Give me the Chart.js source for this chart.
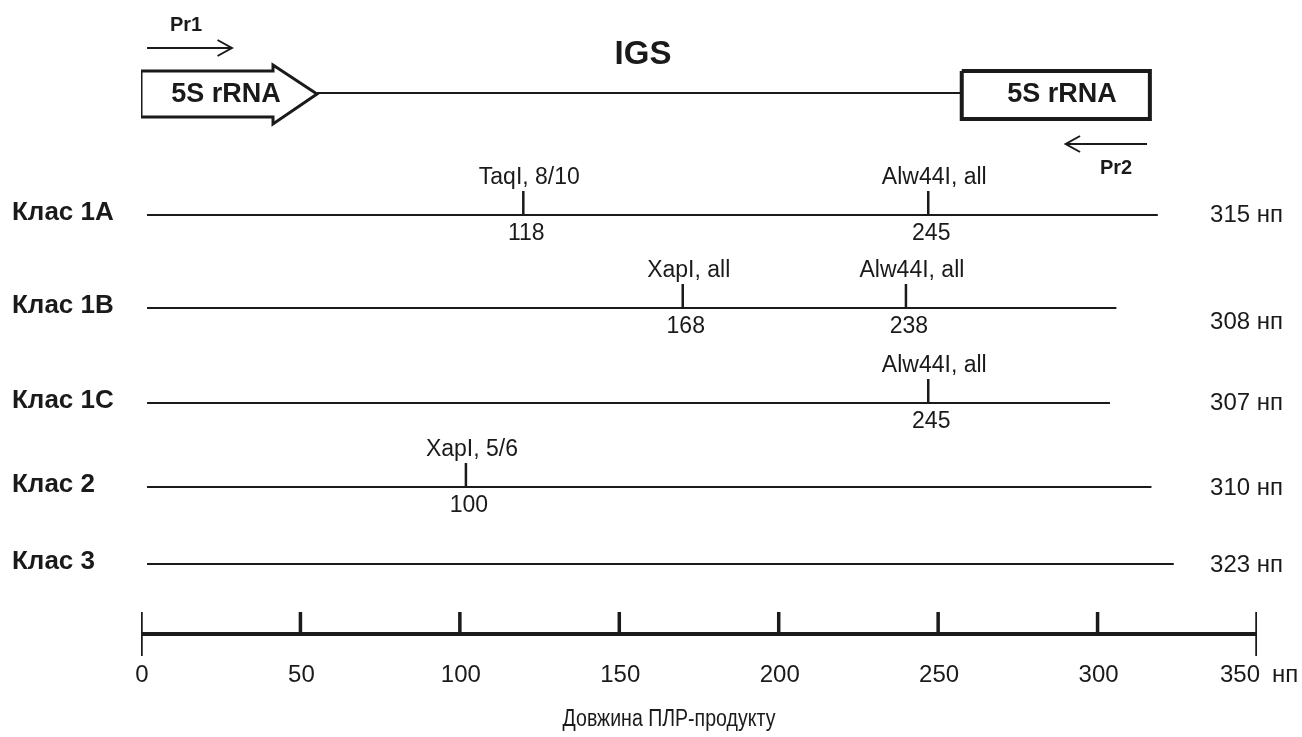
<!DOCTYPE html>
<html>
<head>
<meta charset="utf-8">
<script src="https://cdn.jsdelivr.net/npm/chart.js@4/dist/chart.umd.min.js"></script>
<style>
  html, body { margin: 0; padding: 0; background: #fff; }
  #wrap { width: 1302px; height: 737px; }
</style>
</head>
<body>
<div id="wrap"><canvas id="ctx"></canvas></div>
<script>
// data
const classNames = ['Клас 1A', 'Клас 1B', 'Клас 1C', 'Клас 2', 'Клас 3'];
const productLengths = [315, 308, 307, 310, 323];
const drawnLengths = [317, 304, 302, 315, 322];
const siteClass = [0, 0, 1, 1, 2, 3];
const sitePositions = [118, 245, 168, 238, 245, 100];
const siteEnzymes = ['TaqI, 8/10', 'Alw44I, all', 'XapI, all', 'Alw44I, all', 'Alw44I, all', 'XapI, 5/6'];
const axisTicks = [0, 50, 100, 150, 200, 250, 300, 350];
const axisUnit = 'нп';
const axisTitle = 'Довжина ПЛР-продукту';

// layout (y in canvas units of the y scale)
const rowY = [215, 308, 403, 487, 564];
const lengthLabelY = [215, 322, 403, 488, 565];
const axisY = 634;
const FONT = '"Liberation Sans", Arial, sans-serif';

// gene schematic, x in bp
const gene = { leftStart: 0, headStart: 41.4, tip: 55.2, boxStart: 257.4, boxEnd: 316.4 };

const line = (pts, width, extra) => Object.assign({
  data: pts, borderColor: '#1a1a1a', borderWidth: width, pointRadius: 0,
  fill: false, tension: 0, borderCapStyle: 'butt', borderJoinStyle: 'miter',
}, extra || {});

const datasets = [];

// class rows
classNames.forEach((n, i) => {
  datasets.push(line([{ x: 0, y: rowY[i] }, { x: drawnLengths[i], y: rowY[i] }], 2, { xAxisID: 'x2' }));
});
// restriction sites
sitePositions.forEach((p, i) => {
  const y = rowY[siteClass[i]];
  datasets.push(line([{ x: p, y: y - 24 }, { x: p, y: y }], 2.5, { xAxisID: 'x2' }));
});
// ruler
datasets.push(line([{ x: 0, y: axisY }, { x: 350, y: axisY }], 4));
axisTicks.forEach((t, i) => {
  const end = i === 0 || i === axisTicks.length - 1;
  datasets.push(line([{ x: t, y: 612 }, { x: t, y: end ? 656 : axisY }], 3.5));
});
// IGS line
datasets.push(line([{ x: gene.tip, y: 93 }, { x: gene.boxStart, y: 93 }], 2));
// left 5S arrow
datasets.push(line([
  { x: gene.leftStart, y: 71 }, { x: gene.headStart, y: 71 }, { x: gene.headStart, y: 65 },
  { x: gene.tip, y: 94 }, { x: gene.headStart, y: 124 }, { x: gene.headStart, y: 117 },
  { x: gene.leftStart, y: 117 }, { x: gene.leftStart, y: 71 }], 3));
// right 5S box
datasets.push(line([
  { x: gene.boxStart, y: 71 }, { x: gene.boxEnd, y: 71 }, { x: gene.boxEnd, y: 119 },
  { x: gene.boxStart, y: 119 }, { x: gene.boxStart, y: 71 }], 4));
// primers
datasets.push(line([{ x: 1.9, y: 48 }, { x: 28.5, y: 48 }], 2));
datasets.push(line([{ x: 24, y: 40 }, { x: 28.5, y: 48 }, { x: 24, y: 56 }], 2));
datasets.push(line([{ x: 315.5, y: 144 }, { x: 290, y: 144 }], 2));
datasets.push(line([{ x: 294.5, y: 136 }, { x: 290, y: 144 }, { x: 294.5, y: 152 }], 2));

const textPlugin = {
  id: 'texts',
  afterDatasetsDraw(chart) {
    const { ctx, scales } = chart;
    const x = scales.x, x2 = scales.x2, y = scales.y;
    ctx.save();
    ctx.fillStyle = '#1a1a1a';
    ctx.textBaseline = 'middle';

    ctx.font = 'bold 26px ' + FONT;
    ctx.textAlign = 'left';
    classNames.forEach((n, i) => ctx.fillText(n, 12, y.getPixelForValue(rowY[i] - 2)));

    ctx.font = '24px ' + FONT;
    ctx.textAlign = 'right';
    productLengths.forEach((l, i) => ctx.fillText(l + ' ' + axisUnit, 1283, y.getPixelForValue(lengthLabelY[i])));

    ctx.font = '23px ' + FONT;
    ctx.textAlign = 'center';
    sitePositions.forEach((p, i) => {
      const ry = rowY[siteClass[i]];
      const px = x2.getPixelForValue(p);
      ctx.fillText(siteEnzymes[i], px + 6, y.getPixelForValue(ry - 37));
      ctx.fillText(String(p), px + 3, y.getPixelForValue(ry + 19));
    });

    ctx.font = '24px ' + FONT;
    axisTicks.forEach((t, i) => {
      const px = x.getPixelForValue(t);
      if (i === axisTicks.length - 1) {
        ctx.textAlign = 'right';
        ctx.fillText(String(t), px + 3, y.getPixelForValue(675));
        ctx.textAlign = 'left';
        ctx.fillText(axisUnit, px + 15, y.getPixelForValue(675));
        ctx.textAlign = 'center';
      } else {
        ctx.fillText(String(t), px + 1, y.getPixelForValue(675));
      }
    });
    // title is set in a narrow face in the original, squeeze it a bit
    ctx.save();
    ctx.translate(669, y.getPixelForValue(720));
    ctx.scale(0.85, 1);
    ctx.font = '23px ' + FONT;
    ctx.fillText(axisTitle, 0, 0);
    ctx.restore();

    ctx.font = 'bold 27px ' + FONT;
    ctx.fillText('5S rRNA', 226, y.getPixelForValue(95));
    ctx.fillText('5S rRNA', 1062, y.getPixelForValue(95));
    ctx.font = 'bold 33px ' + FONT;
    ctx.fillText('IGS', 643, y.getPixelForValue(55));
    ctx.font = 'bold 20px ' + FONT;
    ctx.fillText('Pr1', 186, y.getPixelForValue(25));
    ctx.fillText('Pr2', 1116, y.getPixelForValue(168));
    ctx.restore();
  },
};

const chart = new Chart(document.getElementById('ctx').getContext('2d'), {
  type: 'line',
  data: { datasets },
  options: {
    responsive: true,
    maintainAspectRatio: false,
    animation: false,
    devicePixelRatio: 1,
    layout: { padding: { left: 141, right: 45, top: 0, bottom: 0 } },
    plugins: { legend: { display: false }, tooltip: { enabled: false } },
    scales: {
      x: { type: 'linear', min: 0, max: 350, display: false },
      x2: { type: 'linear', min: -1.9, max: 348.1, display: false },
      y: { type: 'linear', min: 0, max: 737, reverse: true, display: false },
    },
  },
  plugins: [textPlugin],
});
</script>
</body>
</html>
